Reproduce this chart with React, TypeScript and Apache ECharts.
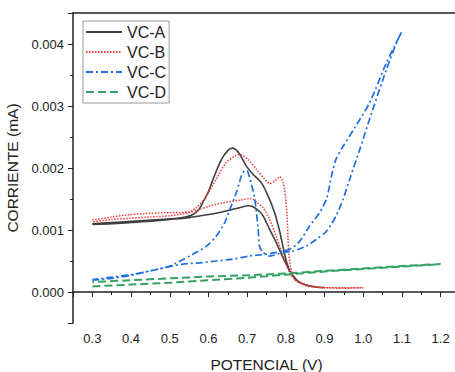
import React, { useEffect, useRef } from "react";
import * as echarts from "echarts";

const xTickLabels = ["0.3", "0.4", "0.5", "0.6", "0.7", "0.8", "0.9", "1.0", "1.1", "1.2"];
const yTickLabels = ["0.000", "0.001", "0.002", "0.003", "0.004"];
const seriesNames = ["VC-A", "VC-B", "VC-C", "VC-D"];

// VC-A: forward (oxidation peak) then return (lower hump)
const vcA: [number, number][] = [
  [0.30, 0.00110], [0.35, 0.00112], [0.40, 0.00114], [0.45, 0.00116], [0.50, 0.00118],
  [0.54, 0.00121], [0.56, 0.00125], [0.575, 0.00133], [0.586, 0.00145], [0.60, 0.00162],
  [0.612, 0.00182], [0.633, 0.00213], [0.650, 0.00228], [0.662, 0.00232], [0.672, 0.00229],
  [0.681, 0.00222], [0.698, 0.00203], [0.715, 0.00190], [0.737, 0.00176], [0.754, 0.00155],
  [0.771, 0.00128], [0.784, 0.00098], [0.794, 0.00069], [0.802, 0.00048], [0.812, 0.00032],
  [0.827, 0.00019], [0.853, 0.00011], [0.881, 0.000076], [0.90, 0.00007],
  [0.88, 0.00008], [0.86, 0.00010], [0.84, 0.00014], [0.827, 0.00020], [0.81, 0.00034],
  [0.793, 0.00055], [0.775, 0.00080], [0.758, 0.00101], [0.741, 0.00123], [0.724, 0.00134],
  [0.705, 0.00139], [0.68, 0.00136], [0.655, 0.00132], [0.62, 0.00127], [0.58, 0.00123],
  [0.55, 0.00120], [0.50, 0.00117], [0.45, 0.00114], [0.40, 0.00112], [0.35, 0.00110],
  [0.30, 0.00109],
];

const vcB: [number, number][] = [
  [0.30, 0.00116], [0.35, 0.00121], [0.40, 0.00125], [0.45, 0.00127], [0.50, 0.00128],
  [0.55, 0.00129], [0.57, 0.00137], [0.586, 0.00147], [0.60, 0.00160], [0.62, 0.00182],
  [0.646, 0.00209], [0.668, 0.00219], [0.681, 0.00222], [0.702, 0.00214], [0.724, 0.00198],
  [0.745, 0.00182], [0.758, 0.00175], [0.771, 0.00179], [0.784, 0.00186], [0.793, 0.00177],
  [0.799, 0.00155], [0.803, 0.00123], [0.805, 0.00095], [0.807, 0.00069], [0.812, 0.00040],
  [0.823, 0.00020], [0.853, 0.00010], [0.88, 0.00008], [0.90, 0.00007], [0.95, 0.00007],
  [1.00, 0.00007],
  [0.95, 0.00006], [0.90, 0.00007], [0.87, 0.00009], [0.845, 0.00013], [0.827, 0.00018],
  [0.81, 0.00031], [0.793, 0.00058], [0.775, 0.00090], [0.758, 0.00117], [0.74, 0.00137],
  [0.724, 0.00145], [0.711, 0.00151], [0.681, 0.00148], [0.638, 0.00144], [0.60, 0.00138],
  [0.577, 0.00133], [0.55, 0.00128], [0.50, 0.00123], [0.45, 0.00121], [0.40, 0.00119],
  [0.35, 0.00117], [0.30, 0.00113],
];

const vcC: [number, number][] = [
  [0.30, 0.00019], [0.35, 0.00022], [0.40, 0.00027], [0.45, 0.00034], [0.50, 0.00041],
  [0.534, 0.00045], [0.577, 0.00047], [0.62, 0.00050], [0.663, 0.00053], [0.706, 0.00058],
  [0.75, 0.00061], [0.81, 0.00069], [0.836, 0.00082], [0.861, 0.00106], [0.887, 0.00128],
  [0.905, 0.00150], [0.918, 0.00187], [0.93, 0.00215], [0.948, 0.00235], [0.978, 0.00265],
  [1.017, 0.00306], [1.06, 0.00370], [1.098, 0.00418], [1.10, 0.00420],
  [1.09, 0.00408], [1.06, 0.00359], [1.025, 0.00295], [0.991, 0.00230], [0.965, 0.00182],
  [0.948, 0.00150], [0.93, 0.00123], [0.905, 0.00098], [0.879, 0.00085], [0.853, 0.00074],
  [0.818, 0.00066], [0.793, 0.00064], [0.758, 0.00058], [0.741, 0.00064], [0.732, 0.00074],
  [0.728, 0.00106], [0.724, 0.00128], [0.719, 0.00153], [0.711, 0.00174], [0.701, 0.00195],
  [0.694, 0.00196], [0.685, 0.00187], [0.672, 0.00160], [0.655, 0.00133], [0.642, 0.00112],
  [0.62, 0.00090], [0.595, 0.00074], [0.551, 0.00058], [0.50, 0.00042], [0.45, 0.00034],
  [0.40, 0.00028], [0.35, 0.00024], [0.30, 0.00020],
];

const vcD: [number, number][] = [
  [0.30, 0.00009], [0.40, 0.00012], [0.50, 0.00015], [0.60, 0.00019], [0.70, 0.00023],
  [0.80, 0.00028], [0.90, 0.00033], [1.00, 0.00037], [1.10, 0.00041], [1.20, 0.00045],
  [1.10, 0.00042], [1.00, 0.00038], [0.90, 0.00034], [0.80, 0.00030], [0.70, 0.00027],
  [0.60, 0.00025], [0.50, 0.00022], [0.40, 0.00019], [0.30, 0.00016],
];

const FONT = "'Liberation Sans', Arial, sans-serif";
const AX = "#222";

export default function App() {
  const ref = useRef<HTMLDivElement>(null);
  useEffect(() => {
    if (!ref.current) return;
    const chart = echarts.init(ref.current, undefined, { renderer: "svg" });
    const xLabel = (v: number) => {
      const s = v.toFixed(1);
      return xTickLabels.includes(s) && Math.abs(v * 10 - Math.round(v * 10)) < 1e-6 ? s : "";
    };
    const yLabel = (v: number) => {
      const s = v.toFixed(3);
      return yTickLabels.includes(s) && Math.abs(v * 1000 - Math.round(v * 1000)) < 1e-6 ? s : "";
    };
    const mk = (name: string, data: [number, number][], color: string, width: number, type: any) => ({
      name,
      type: "line",
      xAxisIndex: 0,
      yAxisIndex: 0,
      data,
      symbol: "none",
      smooth: 0.25,
      lineStyle: { color, width, type },
      itemStyle: { color },
      emphasis: { disabled: true },
    });
    const hidden = { show: false };
    chart.setOption({
      animation: false,
      textStyle: { fontFamily: FONT },
      grid: { left: 73, top: 13, right: -5, bottom: 49, containLabel: false, outerBoundsMode: "none" },
      legend: {
        data: seriesNames,
        orient: "vertical",
        left: 83,
        top: 21,
        padding: [3, 3, 3, 2],
        borderColor: "#999",
        borderWidth: 1,
        backgroundColor: "#fff",
        itemWidth: 36,
        itemHeight: 14,
        itemGap: 4,
        itemStyle: { opacity: 0 },
        textStyle: { fontSize: 16, color: AX, fontFamily: FONT, lineHeight: 16 },
      },
      xAxis: [
        {
          type: "value",
          min: 0.25,
          max: 1.25,
          splitNumber: 10,
          name: "POTENCIAL (V)",
          nameLocation: "middle",
          nameGap: 33,
          nameTextStyle: { fontSize: 15.5, color: AX, fontFamily: FONT },
          axisLine: { show: true, lineStyle: { color: AX, width: 1.5 } },
          axisTick: { show: true, inside: false, length: 5, lineStyle: { color: AX, width: 1 } },
          splitLine: hidden,
          axisLabel: { formatter: xLabel, fontSize: 13, color: AX, margin: 9, fontFamily: FONT },
        },
        {
          type: "value",
          position: "bottom",
          min: 0.25,
          max: 1.25,
          interval: 0.1,
          axisLine: hidden,
          axisTick: { show: true, inside: false, length: 3, lineStyle: { color: AX, width: 1 } },
          axisLabel: hidden,
          splitLine: hidden,
        },
        {
          type: "value",
          position: "top",
          min: 0.25,
          max: 1.25,
          axisLine: { show: true, lineStyle: { color: AX, width: 1.5 } },
          axisTick: hidden,
          axisLabel: hidden,
          splitLine: hidden,
        },
      ],
      yAxis: [
        {
          type: "value",
          min: -0.0005,
          max: 0.0045,
          splitNumber: 5,
          name: "CORRIENTE (mA)",
          nameLocation: "middle",
          nameGap: 47,
          nameTextStyle: { fontSize: 15.5, color: AX, fontFamily: FONT },
          axisLine: { show: true, lineStyle: { color: AX, width: 1.5 } },
          axisTick: { show: true, inside: false, length: 5, lineStyle: { color: AX, width: 1 } },
          splitLine: hidden,
          axisLabel: { formatter: yLabel, fontSize: 13, color: AX, margin: 9, fontFamily: FONT },
        },
        {
          type: "value",
          position: "left",
          min: -0.0005,
          max: 0.0045,
          interval: 0.001,
          axisLine: hidden,
          axisTick: { show: true, inside: false, length: 3, lineStyle: { color: AX, width: 1 } },
          axisLabel: hidden,
          splitLine: hidden,
        },
      ],
      series: [
        mk("VC-A", vcA, "#404040", 1.6, "solid"),
        mk("VC-B", vcB, "#f03a3a", 1.5, [1.5, 1.5]),
        mk("VC-C", vcC, "#1f6fe0", 1.7, [7, 3, 2, 3]),
        mk("VC-D", vcD, "#34a263", 2, [8, 4]),
      ],
    });
    return () => chart.dispose();
  }, []);
  return (
    <div
      ref={ref}
      style={{ position: "fixed", left: 0, top: 0, width: 455, height: 372, background: "#fff" }}
    />
  );
}
